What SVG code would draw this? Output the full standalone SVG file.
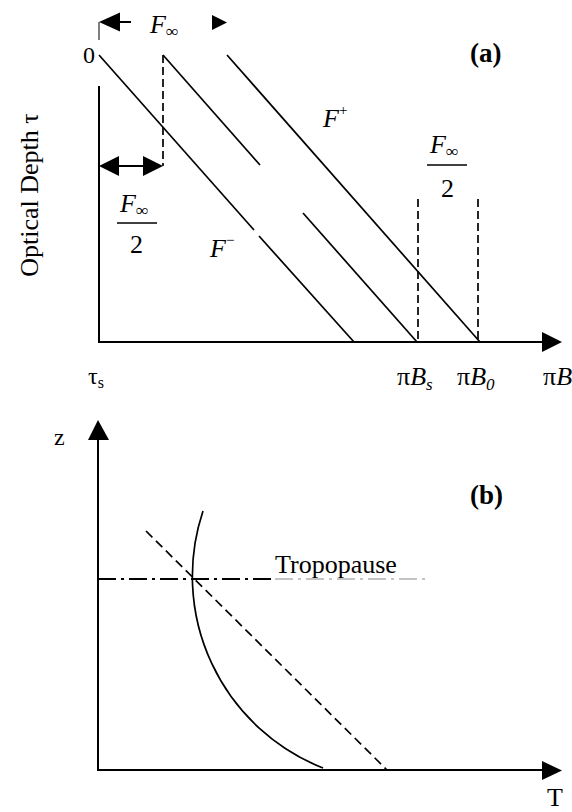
<svg xmlns="http://www.w3.org/2000/svg" width="572" height="812" viewBox="0 0 572 812">
<style>
.ax{stroke:#000;stroke-width:2;fill:none}
.ln{stroke:#000;stroke-width:1.7;fill:none}
.dash{stroke:#000;stroke-width:1.7;fill:none;stroke-dasharray:8 4}
.hd{fill:#000;stroke:none}
text{font-family:"Liberation Serif","Times New Roman",serif;fill:#000}
.it{font-style:italic}
.bold{font-weight:bold}
</style>
<rect width="572" height="812" fill="#fff"/>
<g id="panel-a">
  <g id="axes-a">
    <line class="ax" x1="99" y1="86" x2="99" y2="342"/>
    <line x1="99" y1="22" x2="99" y2="40" stroke="#000" stroke-width="1"/>
    <line class="ax" x1="98" y1="342" x2="545" y2="342"/>
    <polygon class="hd" points="542,332 562,342 542,352"/>
  </g>
  <g id="lines-a">
    <polyline class="ln" points="99,55 254,230"/>
    <polyline class="ln" points="259,236 354,342"/>
    <polyline class="ln" points="163,55 260,165"/>
    <polyline class="ln" points="303,213 417,342"/>
    <polyline class="ln" points="227,55 480,342"/>
    <line class="dash" x1="163" y1="55" x2="163" y2="166"/>
    <line class="dash" x1="418" y1="199" x2="418" y2="342"/>
    <line class="dash" x1="478" y1="199" x2="478" y2="342"/>
  </g>
  <g id="arrow-top">
    <polygon class="hd" points="99,22 120,12.5 120,31.5"/>
    <line x1="118" y1="22" x2="131" y2="22" stroke="#000" stroke-width="2"/>
    <polygon class="hd" points="212,15 227,22.5 212,30"/>
  </g>
  <g id="arrow-half">
    <line x1="110" y1="166" x2="152" y2="166" stroke="#000" stroke-width="2"/>
    <polygon class="hd" points="99,166 119,156 119,176"/>
    <polygon class="hd" points="163,166 143,156 143,176"/>
  </g>
  <g id="labels-a">
    <text x="83" y="63" font-size="24">0</text>
    <text x="150" y="33" font-size="26" class="it">F<tspan font-size="17" dy="4">∞</tspan></text>
    <text x="470" y="62" font-size="27" class="bold">(a)</text>
    <text x="323" y="127" font-size="26" class="it">F<tspan font-size="15" dy="-12" font-style="normal">+</tspan></text>
    <text x="210" y="257" font-size="26" class="it">F<tspan font-size="15" dy="-12" font-style="normal">−</tspan></text>
    <text x="430" y="153" font-size="26" class="it">F<tspan font-size="17" dy="4">∞</tspan></text>
    <line x1="427" y1="165" x2="467" y2="165" stroke="#000" stroke-width="1.5"/>
    <text x="441" y="197" font-size="26">2</text>
    <text x="120" y="212" font-size="26" class="it">F<tspan font-size="17" dy="4">∞</tspan></text>
    <line x1="117" y1="223" x2="157" y2="223" stroke="#000" stroke-width="1.5"/>
    <text x="130" y="253" font-size="26">2</text>
    <text x="38" y="195" font-size="26" text-anchor="middle" transform="rotate(-90 38 195)">Optical Depth τ</text>
    <text x="88" y="384" font-size="24">τ<tspan font-size="16" dy="4">s</tspan></text>
    <text x="397" y="385" font-size="26">π<tspan class="it">B</tspan><tspan class="it" font-size="17" dy="5">s</tspan></text>
    <text x="457" y="385" font-size="26">π<tspan class="it">B</tspan><tspan class="it" font-size="17" dy="5">0</tspan></text>
    <text x="543" y="385" font-size="26">π<tspan class="it">B</tspan></text>
  </g>
</g>
<g id="panel-b">
  <g id="axes-b">
    <line class="ax" x1="98" y1="438" x2="98" y2="771"/>
    <polygon class="hd" points="98,420 88,440 109,440"/>
    <line class="ax" x1="97" y1="770" x2="545" y2="770"/>
    <polygon class="hd" points="542,761 562,770.5 542,780"/>
  </g>
  <g id="curves-b">
    <path class="ln" d="M203,511 A206,206 0 0,0 323,768"/>
    <line x1="146" y1="531" x2="387" y2="770" stroke="#000" stroke-width="1.7" stroke-dasharray="9 5"/>
    <line x1="98" y1="579" x2="275" y2="579" stroke="#000" stroke-width="2" stroke-dasharray="18 5 3 5"/>
    <line x1="275" y1="579" x2="430" y2="579" stroke="#888" stroke-width="1" stroke-dasharray="18 5 3 5"/>
  </g>
  <g id="labels-b">
    <text x="54" y="445" font-size="24">z</text>
    <text x="470" y="504" font-size="27" class="bold">(b)</text>
    <text x="275" y="573" font-size="26">Tropopause</text>
    <text x="555" y="806" font-size="26" text-anchor="middle">T</text>
  </g>
</g>
</svg>
